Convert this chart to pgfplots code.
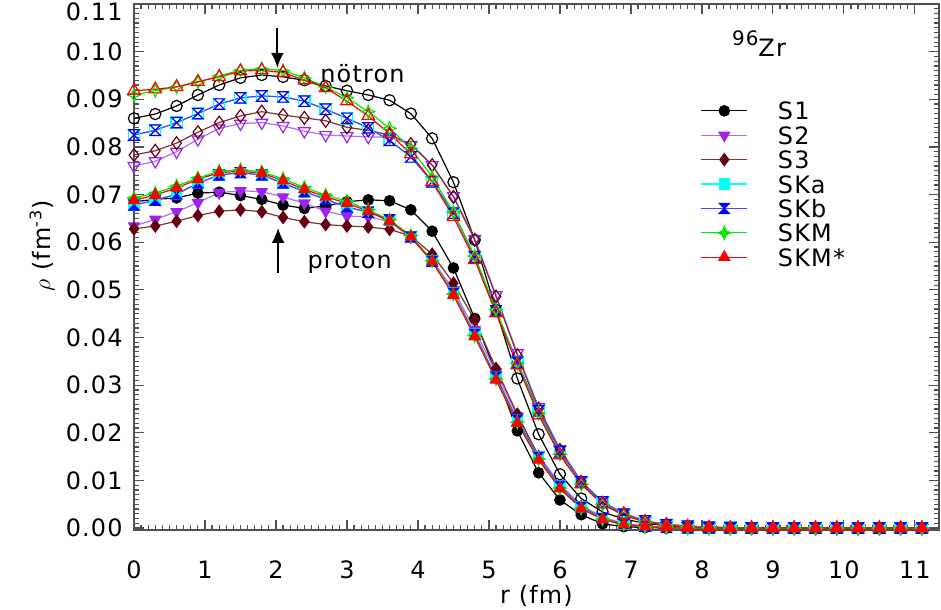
\documentclass[border=0pt]{standalone}
\usepackage{fontspec}
\setmainfont{DejaVu Sans}[LetterSpace=5.0]
\usepackage{pgfplots}
\pgfplotsset{compat=1.18}
\usepackage{pgfplotstable}
\usetikzlibrary{arrows.meta}

\definecolor{cSii}{RGB}{160,32,240}
\definecolor{cSiiL}{RGB}{176,110,240}
\definecolor{cSiii}{RGB}{102,0,16}
\definecolor{cSiiiL}{RGB}{128,50,50}
\definecolor{cSKa}{RGB}{0,255,255}
\definecolor{cSKb}{RGB}{0,0,255}
\definecolor{cSKbL}{RGB}{70,70,255}
\definecolor{cSKM}{RGB}{0,235,0}
\definecolor{cSKMs}{RGB}{255,0,0}
\definecolor{axgray}{RGB}{80,80,80}

\newcommand\ff{\fontsize{12}{14.4}\selectfont}

\pgfdeclareplotmark{hourglass*}{%
 \pgfpathmoveto{\pgfqpoint{-\pgfplotmarksize}{\pgfplotmarksize}}%
 \pgfpathlineto{\pgfqpoint{\pgfplotmarksize}{\pgfplotmarksize}}%
 \pgfpathlineto{\pgfqpoint{-\pgfplotmarksize}{-\pgfplotmarksize}}%
 \pgfpathlineto{\pgfqpoint{\pgfplotmarksize}{-\pgfplotmarksize}}%
 \pgfpathclose\pgfusepathqfillstroke}
\pgfdeclareplotmark{hourglass}{%
 \pgfpathmoveto{\pgfqpoint{-\pgfplotmarksize}{\pgfplotmarksize}}%
 \pgfpathlineto{\pgfqpoint{\pgfplotmarksize}{\pgfplotmarksize}}%
 \pgfpathlineto{\pgfqpoint{-\pgfplotmarksize}{-\pgfplotmarksize}}%
 \pgfpathlineto{\pgfqpoint{\pgfplotmarksize}{-\pgfplotmarksize}}%
 \pgfpathclose\pgfusepathqstroke}
\pgfdeclareplotmark{star4*}{%
 \pgfpathmoveto{\pgfqpoint{0pt}{\pgfplotmarksize}}%
 \pgfpathlineto{\pgfqpoint{0.3\pgfplotmarksize}{0.3\pgfplotmarksize}}%
 \pgfpathlineto{\pgfqpoint{\pgfplotmarksize}{0pt}}%
 \pgfpathlineto{\pgfqpoint{0.3\pgfplotmarksize}{-0.3\pgfplotmarksize}}%
 \pgfpathlineto{\pgfqpoint{0pt}{-\pgfplotmarksize}}%
 \pgfpathlineto{\pgfqpoint{-0.3\pgfplotmarksize}{-0.3\pgfplotmarksize}}%
 \pgfpathlineto{\pgfqpoint{-\pgfplotmarksize}{0pt}}%
 \pgfpathlineto{\pgfqpoint{-0.3\pgfplotmarksize}{0.3\pgfplotmarksize}}%
 \pgfpathclose\pgfusepathqfillstroke}
\pgfdeclareplotmark{star4}{%
 \pgfpathmoveto{\pgfqpoint{0pt}{\pgfplotmarksize}}%
 \pgfpathlineto{\pgfqpoint{0.3\pgfplotmarksize}{0.3\pgfplotmarksize}}%
 \pgfpathlineto{\pgfqpoint{\pgfplotmarksize}{0pt}}%
 \pgfpathlineto{\pgfqpoint{0.3\pgfplotmarksize}{-0.3\pgfplotmarksize}}%
 \pgfpathlineto{\pgfqpoint{0pt}{-\pgfplotmarksize}}%
 \pgfpathlineto{\pgfqpoint{-0.3\pgfplotmarksize}{-0.3\pgfplotmarksize}}%
 \pgfpathlineto{\pgfqpoint{-\pgfplotmarksize}{0pt}}%
 \pgfpathlineto{\pgfqpoint{-0.3\pgfplotmarksize}{0.3\pgfplotmarksize}}%
 \pgfpathclose\pgfusepathqstroke}

% r, neutron (n) and proton (p) densities for each Skyrme force
\pgfplotstableread{
r    nS1   pS1   nS2   pS2   nS3   pS3   nSKa  pSKa  nSKb  pSKb  nSKM  pSKM  nSKMs pSKMs
0.0  .0860 .0685 .0760 .0634 .0783 .0628 .0825 .0678 .0825 .0678 .0909 .0693 .0918 .0688
0.3  .0869 .0690 .0770 .0648 .0792 .0634 .0835 .0688 .0835 .0688 .0918 .0703 .0921 .0699
0.6  .0886 .0693 .0790 .0664 .0808 .0644 .0851 .0701 .0851 .0701 .0926 .0718 .0926 .0714
0.9  .0909 .0703 .0816 .0683 .0831 .0656 .0870 .0724 .0870 .0724 .0936 .0735 .0937 .0732
1.2  .0930 .0705 .0839 .0704 .0851 .0665 .0890 .0741 .0890 .0741 .0949 .0749 .0947 .0746
1.5  .0945 .0698 .0849 .0708 .0865 .0668 .0903 .0746 .0903 .0746 .0961 .0752 .0959 .0749
1.8  .0951 .0690 .0851 .0706 .0874 .0664 .0907 .0741 .0907 .0741 .0964 .0748 .0961 .0745
2.1  .0947 .0678 .0844 .0695 .0867 .0652 .0905 .0724 .0905 .0724 .0960 .0733 .0956 .0729
2.4  .0940 .0671 .0833 .0682 .0861 .0643 .0896 .0706 .0896 .0706 .0945 .0715 .0940 .0711
2.7  .0928 .0676 .0825 .0665 .0855 .0637 .0879 .0690 .0879 .0690 .0926 .0699 .0924 .0695
3.0  .0918 .0685 .0823 .0655 .0841 .0634 .0860 .0674 .0860 .0674 .0903 .0686 .0896 .0682
3.3  .0909 .0689 .0821 .0653 .0835 .0632 .0840 .0663 .0840 .0663 .0874 .0668 .0865 .0665
3.6  .0898 .0687 .0821 .0644 .0825 .0627 .0814 .0647 .0814 .0647 .0839 .0647 .0828 .0644
3.9  .0870 .0668 .0804 .0611 .0806 .0613 .0779 .0611 .0779 .0611 .0797 .0614 .0785 .0611
4.2  .0818 .0623 .0762 .0563 .0762 .0575 .0727 .0560 .0727 .0560 .0737 .0561 .0727 .0559
4.5  .0726 .0546 .0697 .0500 .0695 .0514 .0661 .0493 .0661 .0493 .0663 .0491 .0653 .0489
4.8  .0605 .0440 .0607 .0416 .0605 .0437 .0569 .0407 .0569 .0407 .0571 .0404 .0563 .0402
5.1  .0458 .0325 .0489 .0327 .0486 .0335 .0456 .0317 .0456 .0317 .0458 .0313 .0451 .0311
5.4  .0314 .0204 .0367 .0235 .0363 .0239 .0348 .0227 .0348 .0227 .0346 .0222 .0342 .0220
5.7  .0197 .0116 .0254 .0153 .0251 .0150 .0246 .0149 .0246 .0149 .0241 .0145 .0237 .0143
6.0  .0113 .0059 .0166 .0092 .0164 .0087 .0160 .0088 .0160 .0088 .0155 .0084 .0153 .0083
6.3  .0062 .0028 .0099 .0048 .0097 .0045 .0097 .0044 .0097 .0044 .0092 .0042 .0092 .0041
6.6  .0034 .0009 .0055 .0023 .0053 .0020 .0055 .0020 .0055 .0020 .0050 .0019 .0050 .0018
6.9  .0019 .0003 .0031 .0010 .0031 .0006 .0029 .0009 .0029 .0009 .0027 .0008 .0027 .0007
7.2  .0010 .0001 .0015 .0004 .0014 .0003 .0015 .0004 .0015 .0004 .0013 .0003 .0013 .0003
7.5  .0005 0     .0008 .0001 .0008 .0001 .0007 .0001 .0007 .0001 .0006 .0001 .0006 .0001
7.8  .0002 0     .0004 0     .0004 0     .0004 0     .0004 0     .0003 0     .0003 0
8.1  .0001 0     .0002 0     .0002 0     .0002 0     .0002 0     .0001 0     .0001 0
8.4  0     0     .0001 0     .0001 0     .0001 0     .0001 0     0     0     0     0
8.7  0     0     0     0     0     0     0     0     0     0     0     0     0     0
9.0  0     0     0     0     0     0     0     0     0     0     0     0     0     0
9.3  0     0     0     0     0     0     0     0     0     0     0     0     0     0
9.6  0     0     0     0     0     0     0     0     0     0     0     0     0     0
9.9  0     0     0     0     0     0     0     0     0     0     0     0     0     0
10.2 0     0     0     0     0     0     0     0     0     0     0     0     0     0
10.5 0     0     0     0     0     0     0     0     0     0     0     0     0     0
10.8 0     0     0     0     0     0     0     0     0     0     0     0     0     0
11.1 0     0     0     0     0     0     0     0     0     0     0     0     0     0
}\data

\begin{document}
\begin{tikzpicture}
\path[use as bounding box] (-67bp,-40bp) rectangle (403.5bp,265bp);
\begin{axis}[
  scale only axis, width=402.5bp, height=263bp,
  xmin=0, xmax=11.34, ymin=-0.0004, ymax=0.11,
  xtick={0,1,2,3,4,5,6,7,8,9,10,11},
  ytick={0,0.01,0.02,0.03,0.04,0.05,0.06,0.07,0.08,0.09,0.10,0.11},
  yticklabels={0.00,0.01,0.02,0.03,0.04,0.05,0.06,0.07,0.08,0.09,0.10,{\raisebox{-4bp}[8.75bp][0pt]{0.11}}},
  minor x tick num=9, minor y tick num=9,
  scaled y ticks=false,
  /pgf/number format/assume math mode=true,
  tick align=inside,
  major tick length=5bp, minor tick length=2.5bp,
  every tick/.style={axgray, line width=0.6bp},
  axis line style={axgray, line width=0.8bp},
  tick label style={font=\ff},
  xticklabel style={anchor=base, inner sep=0pt, yshift=-24bp},
  yticklabel style={anchor=east, inner sep=0pt, xshift=-5.5bp},
  xlabel={r (fm)},
  ylabel={$\rho$ (fm\textsuperscript{-3})},
  label style={font=\ff},
  xlabel style={at={(axis description cs:0.5,0)}, anchor=base, yshift=-36.5bp, inner sep=0pt},
  ylabel style={at={(axis description cs:-0.1043,0.54)}, anchor=base, inner sep=0pt},
  legend cell align=left,
  legend image code/.code={\draw[mark repeat=2,mark phase=2] plot coordinates {(0bp,0bp) (11.5bp,0bp) (23bp,0bp)};},
  legend style={at={(rel axis cs:0.704,0.814)}, anchor=north west, draw=none, fill=none,
    inner sep=0pt, outer sep=0pt, font=\ff, row sep=3.2bp,
    nodes={inner sep=0pt, text height=9.0bp, text depth=0pt},
    /tikz/every odd column/.append style={column sep=15bp}},
  every axis plot/.append style={line width=0.6bp},
]
% S1
\addplot[forget plot, black, mark=o, mark size=2.8bp, mark options={solid}] table[x=r,y=nS1]{\data};
\addplot[black, mark=*, mark size=2.6bp] table[x=r,y=pS1]{\data};
\addlegendentry{S1}
% S2
\addplot[forget plot, cSiiL, mark=triangle, mark size=3.4bp, mark options={draw=cSii, rotate=180}] table[x=r,y=nS2]{\data};
\addplot[cSiiL, mark=triangle*, mark size=3.1bp, mark options={draw=cSii, fill=cSii, rotate=180}] table[x=r,y=pS2]{\data};
\addlegendentry{S2}
% S3
\addplot[forget plot, cSiiiL, mark=diamond, mark size=3.2bp, mark options={draw=cSiii}] table[x=r,y=nS3]{\data};
\addplot[cSiiiL, mark=diamond*, mark size=3.0bp, mark options={draw=cSiii, fill=cSiii}] table[x=r,y=pS3]{\data};
\addlegendentry{S3}
% SKa
\addplot[forget plot, cSKa, mark=square, mark size=2.8bp] table[x=r,y=nSKa]{\data};
\addplot[cSKa, mark=square*, mark size=2.6bp] table[x=r,y=pSKa]{\data};
\addlegendentry{SKa}
% SKb
\addplot[forget plot, cSKbL, mark=hourglass, mark size=2.6bp, mark options={draw=cSKb}] table[x=r,y=nSKb]{\data};
\addplot[cSKbL, mark=hourglass*, mark size=2.5bp, mark options={draw=cSKb, fill=cSKb}] table[x=r,y=pSKb]{\data};
\addlegendentry{SKb}
% SKM
\addplot[forget plot, cSKM, mark=star4, mark size=3.2bp] table[x=r,y=nSKM]{\data};
\addplot[cSKM, mark=star4*, mark size=3.2bp] table[x=r,y=pSKM]{\data};
\addlegendentry{SKM}
% SKM*
\addplot[forget plot, cSKMs, mark=triangle, mark size=3.6bp] table[x=r,y=nSKMs]{\data};
\addplot[cSKMs, mark=triangle*, mark size=3.1bp] table[x=r,y=pSKMs]{\data};
\addlegendentry{SKM*}

% annotations
\draw[-{Latex[length=7.5bp,width=6.5bp]}, line width=1bp] (axis cs:2.02,0.105) -- (axis cs:2.02,0.0966);
\draw[-{Latex[length=7.5bp,width=6.5bp]}, line width=1bp] (axis cs:2.03,0.0535) -- (axis cs:2.03,0.0630);
\node[anchor=base west, inner sep=0pt, font=\ff] at (axis cs:2.62,0.0936) {nötron};
\node[anchor=base west, inner sep=0pt, font=\ff] at (axis cs:2.44,0.0544) {proton};
\node[anchor=base west, inner sep=0pt, font=\ff] at (axis cs:8.42,0.0989) {\raisebox{5.5bp}{\fontsize{10}{12}\selectfont 96}Zr};
\end{axis}
\end{tikzpicture}
\end{document}
